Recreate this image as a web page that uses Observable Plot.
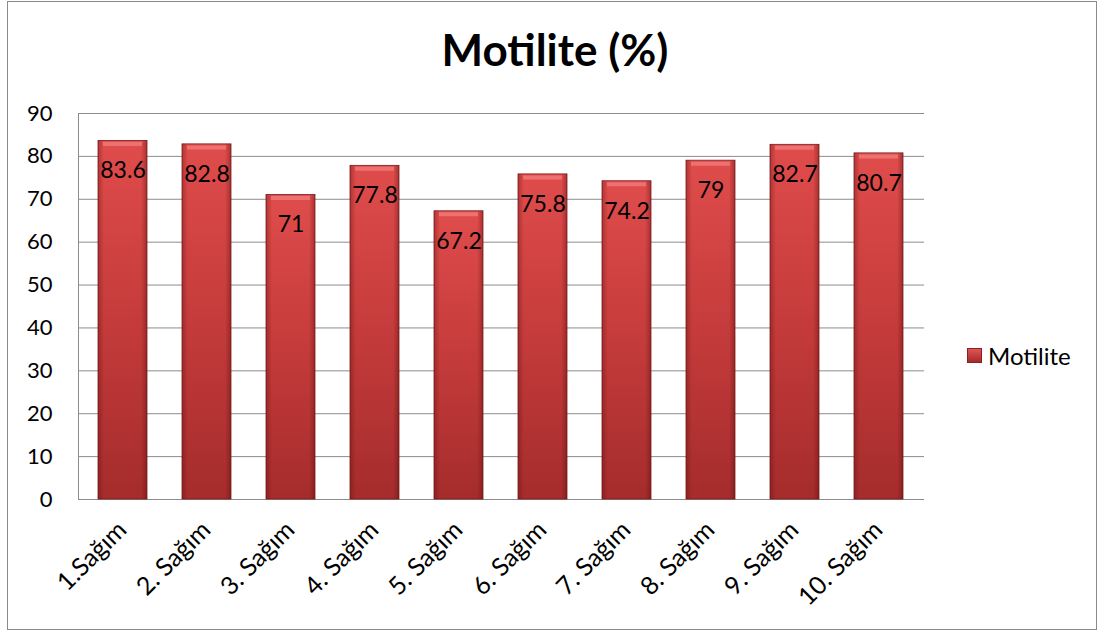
<!DOCTYPE html>
<html>
<head>
<meta charset="utf-8">
<script src="https://cdn.jsdelivr.net/npm/d3@7"></script>
<script src="https://cdn.jsdelivr.net/npm/@observablehq/plot@0.6"></script>
<style>
  html, body { margin: 0; padding: 0; background: #fff; }
  #wrap { position: relative; width: 1101px; height: 634px; font-family: Lato, "Open Sans", sans-serif; }
  #border { position: absolute; left: 7px; top: 1px; width: 1090px; height: 629px; border: 1.5px solid #8a8a8a; box-sizing: border-box; }
  #title { position: absolute; left: 0; width: 1110px; top: 24px; text-align: center; font-weight: bold; font-size: 44px; line-height: 50px; color: #000; }
  #legend { position: absolute; left: 967px; top: 341px; display: flex; align-items: center; font-size: 24px; color: #000; }
  #legend .sw { width: 15px; height: 15px; margin-right: 6px; background: linear-gradient(#e05555, #a52a2a); border: 1px solid #8a2020; box-sizing: border-box; }
  #chart { position: absolute; left: 0; top: 0; }
</style>
</head>
<body>
<div id="wrap">
  <div id="border"></div>
  <div id="title">Motilite (%)</div>
  <div id="chart"></div>
  <div id="legend"><div class="sw"></div><span>Motilite</span></div>
</div>
<script>
const categories = ["1.Sağım", "2. Sağım", "3. Sağım", "4. Sağım", "5. Sağım", "6. Sağım", "7. Sağım", "8. Sağım", "9. Sağım", "10. Sağım"];
const values = [83.6, 82.8, 71, 77.8, 67.2, 75.8, 74.2, 79, 82.7, 80.7];
const yTicks = [0, 10, 20, 30, 40, 50, 60, 70, 80, 90];

const data = categories.map((c, i) => ({cat: c, v: values[i]}));

const chart = Plot.plot({
  width: 1101,
  height: 634,
  marginLeft: 78,
  marginRight: 177,
  marginTop: 113,
  marginBottom: 135,
  style: {fontFamily: "Lato, 'Open Sans', sans-serif", background: "transparent", overflow: "visible"},
  x: {domain: categories, paddingInner: 0.414, paddingOuter: 0.21, label: null, axis: null},
  y: {domain: [0, 90], label: null, axis: null},
  marks: [
    Plot.gridY(yTicks, {stroke: "#8c8c8c", strokeOpacity: 1, strokeWidth: 1}),
    Plot.frame({anchor: "left", stroke: "#8c8c8c", strokeWidth: 1}),
    Plot.axisY(yTicks, {tickSize: 0, tickPadding: 26, fontSize: 22, fill: "#000", label: null}),
    Plot.barY(data, {x: "cat", y: "v", fill: "url(#barGrad)", stroke: "#7a1c1c", strokeWidth: 0.8}),
    Plot.barY(data, {x: "cat", y: "v", fill: "url(#sideGrad)"}),
    Plot.tickY(data, {x: "cat", y: "v", dy: 3, inset: 5, stroke: "#f07a7a", strokeWidth: 4, strokeOpacity: 0.8}),
    Plot.text(data, {x: "cat", y: "v", text: d => String(d.v), dy: 30, fontSize: 23, fill: "#000"}),
    Plot.text(categories, {x: d => d, frameAnchor: "bottom", dy: 32, dx: 5, rotate: -45, textAnchor: "end", fontSize: 25, fill: "#000"})
  ]
});

const svg = d3.select(chart);
const defs = svg.insert("defs", ":first-child");
const g1 = defs.append("linearGradient").attr("id", "barGrad").attr("x1", 0).attr("y1", 0).attr("x2", 0).attr("y2", 1);
g1.append("stop").attr("offset", "0%").attr("stop-color", "#e04c4c");
g1.append("stop").attr("offset", "50%").attr("stop-color", "#c53b3b");
g1.append("stop").attr("offset", "100%").attr("stop-color", "#a52c2c");
const g2 = defs.append("linearGradient").attr("id", "sideGrad").attr("x1", 0).attr("y1", 0).attr("x2", 1).attr("y2", 0);
g2.append("stop").attr("offset", "0%").attr("stop-color", "#5a0c0c").attr("stop-opacity", 0.35);
g2.append("stop").attr("offset", "12%").attr("stop-color", "#5a0c0c").attr("stop-opacity", 0.0);
g2.append("stop").attr("offset", "88%").attr("stop-color", "#5a0c0c").attr("stop-opacity", 0.0);
g2.append("stop").attr("offset", "100%").attr("stop-color", "#5a0c0c").attr("stop-opacity", 0.4);

document.getElementById("chart").appendChild(chart);
</script>
</body>
</html>
